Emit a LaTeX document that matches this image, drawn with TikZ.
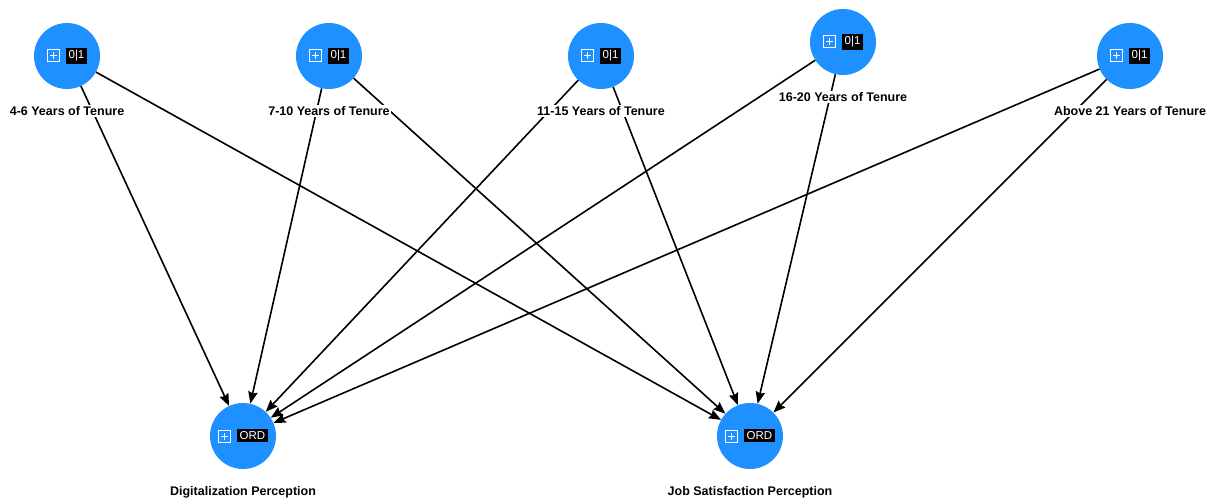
\documentclass[tikz,border=0pt]{standalone}
\usepackage{fontspec}
\setmainfont{Liberation Sans}
\usetikzlibrary{positioning,arrows.meta}
\definecolor{varblue}{RGB}{30,144,255}
\newcommand{\plusicon}{\tikz[baseline=-0.6ex,x=1pt,y=1pt]\draw[white,line width=1pt] (-6,-6) rectangle (6,6) (-3.5,0)--(3.5,0) (0,-3.5)--(0,3.5);}
\newcommand{\vartag}[1]{\plusicon\hspace{6pt}{\setlength{\fboxsep}{2.4pt}\colorbox{black}{\textcolor{white}{\fontsize{11.5}{12}\selectfont #1}}}}
\tikzset{
  var/.style={circle, fill=varblue, inner sep=0pt, minimum size=66pt},
  varlabel/.style={fill=white, inner sep=1pt, font=\fontsize{12.5}{14}\selectfont\bfseries},
  path/.style={-{Stealth[length=12pt,width=9.5pt,inset=1.5pt]}, line width=1.6pt}
}
\begin{document}
\begin{tikzpicture}[x=1pt,y=-1pt]
    \useasboundingbox (0,0) rectangle (1212,502);
    \node [var] (T1) at (67,56) {\vartag{0|1}};
    \node [var] (T2) at (329,56) {\vartag{0|1}};
    \node [var] (T3) at (601,56) {\vartag{0|1}};
    \node [var] (T4) at (843,42) {\vartag{0|1}};
    \node [var] (T5) at (1130,56) {\vartag{0|1}};
    \node [var] (DP) at (243,436) {\vartag{ORD}};
    \node [var] (JS) at (750,436) {\vartag{ORD}};

    \foreach \t in {T1,T2,T3,T4,T5} {
        \draw [path] (\t) -- (DP);
        \draw [path] (\t) -- (JS);
    }

    \node [varlabel, below=16pt of T1] (T1l) {4-6 Years of Tenure};
    \node [varlabel, below=16pt of T2] (T2l) {7-10 Years of Tenure};
    \node [varlabel, below=16pt of T3] (T3l) {11-15 Years of Tenure};
    \node [varlabel, below=16pt of T4] (T4l) {16-20 Years of Tenure};
    \node [varlabel, below=16pt of T5] (T5l) {Above 21 Years of Tenure};
    \node [varlabel, below=16pt of DP] (DPl) {Digitalization Perception};
    \node [varlabel, below=16pt of JS] (JSl) {Job Satisfaction Perception};
\end{tikzpicture}
\end{document}
